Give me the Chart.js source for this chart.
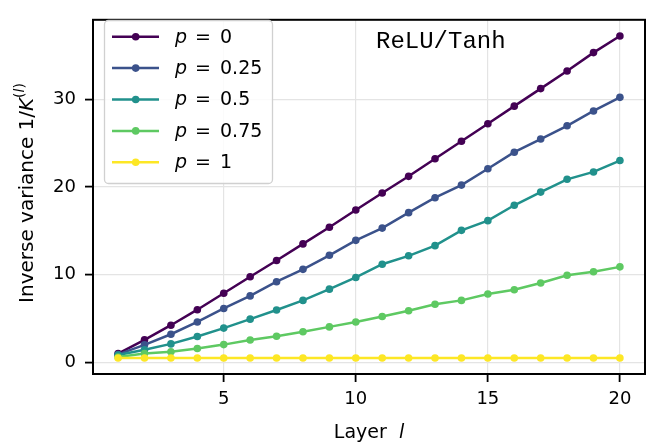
<!DOCTYPE html>
<html>
<head>
<meta charset="utf-8">
<script src="https://cdn.jsdelivr.net/npm/chart.js@4"></script>
<style>
body{margin:0;background:#fff;}
canvas{display:block;}
</style>
</head>
<body>
<canvas id="chart" width="649" height="443"></canvas>
<script>
// layer index and inverse variance per dropout value p
const layers=[1,2,3,4,5,6,7,8,9,10,11,12,13,14,15,16,17,18,19,20];
const pLabels=["0","0.25","0.5","0.75","1"];
const invVarP0=[1.0,2.57,4.23,6.0,7.87,9.75,11.6,13.5,15.4,17.36,19.3,21.2,23.2,25.2,27.2,29.2,31.2,33.2,35.3,37.2];
const invVarP025=[0.9,1.99,3.2,4.6,6.14,7.57,9.19,10.6,12.2,13.9,15.3,17.06,18.76,20.2,22.07,23.95,25.45,26.96,28.65,30.2];
const invVarP05=[0.84,1.43,2.1,2.94,3.9,4.92,5.96,7.06,8.34,9.67,11.18,12.14,13.3,15.04,16.15,17.9,19.4,20.86,21.7,23.0];
const invVarP075=[0.6,1.0,1.21,1.58,2.02,2.54,2.98,3.49,4.04,4.59,5.22,5.88,6.62,7.06,7.79,8.28,9.05,9.93,10.33,10.88];
const invVarP1=[0.5,0.5,0.5,0.5,0.5,0.5,0.5,0.5,0.5,0.5,0.5,0.5,0.5,0.5,0.5,0.5,0.5,0.5,0.5,0.5];
const xTicks=[5,10,15,20];
const yTicks=[0,10,20,30];
const colors=["#440154","#3b528b","#21918c","#5ec962","#fde725"];

const series=[invVarP0,invVarP025,invVarP05,invVarP075,invVarP1];

const sans="'DejaVu Sans'";

let datasets=series.map((vals,i)=>({
label:"p = "+pLabels[i],
data:layers.map((l,j)=>({x:l,y:vals[j]})),
borderColor:colors[i],
backgroundColor:colors[i],
pointBackgroundColor:colors[i],
pointBorderColor:colors[i],
borderWidth:2.5,
pointRadius:3.8,
pointBorderWidth:0,
tension:0,
order:series.length-i
}));

// draws a run of text pieces with mixed fonts, centred on 0
function drawPieces(ctx,pieces){
let total=0;
pieces.forEach(p=>{ctx.font=p.font;p.w=ctx.measureText(p.text).width;total+=p.w;});
let x=-total/2;
pieces.forEach(p=>{
ctx.font=p.font;
ctx.fillText(p.text,x,p.dy||0);
x+=p.w;
});
}

const extras={
id:"extras",
afterDraw(chart){
const ctx=chart.ctx;
const a=chart.chartArea;
ctx.save();

// frame
ctx.strokeStyle="#000";
ctx.lineWidth=2;
ctx.strokeRect(a.left,a.top,a.right-a.left,a.bottom-a.top);

// annotation
ctx.fillStyle="#000";
ctx.font="24px 'Liberation Mono'";
ctx.textAlign="left";
ctx.textBaseline="alphabetic";
ctx.fillText("ReLU/Tanh",376,48);

// legend
let lx=104,ly=20,lw=168,lh=163;
ctx.fillStyle="rgba(255,255,255,0.85)";
ctx.strokeStyle="#d0d0d0";
ctx.lineWidth=1.3;
ctx.beginPath();
ctx.roundRect(lx+0.5,ly+0.5,lw,lh,4);
ctx.fill();
ctx.stroke();
ctx.textBaseline="middle";
pLabels.forEach((lab,i)=>{
let y=36.7+i*31.4;
ctx.strokeStyle=colors[i];
ctx.lineWidth=2.5;
ctx.beginPath();
ctx.moveTo(112,y);ctx.lineTo(159,y);ctx.stroke();
ctx.fillStyle=colors[i];
ctx.beginPath();ctx.arc(135.7,y,3.8,0,Math.PI*2);ctx.fill();
ctx.fillStyle="#000";
ctx.font="italic 19px "+sans;
ctx.fillText("p",175,y+1);
ctx.font="19px "+sans;
ctx.fillText("=",195,y+1);
ctx.fillText(lab,220,y+1);
});

// axis titles
ctx.fillStyle="#000";
ctx.textAlign="left";
ctx.textBaseline="middle";
ctx.save();
ctx.translate((a.left+a.right)/2,433);
drawPieces(ctx,[
{text:"Layer  ",font:"19px "+sans},
{text:"l",font:"italic 19px "+sans}
]);
ctx.restore();

ctx.save();
ctx.translate(28,193);
ctx.rotate(-Math.PI/2);
drawPieces(ctx,[
{text:"Inverse variance 1/",font:"20px "+sans},
{text:"K",font:"italic 20px "+sans},
{text:"(",font:"14px "+sans,dy:-8},
{text:"l",font:"italic 14px "+sans,dy:-8},
{text:")",font:"14px "+sans,dy:-8}
]);
ctx.restore();

ctx.restore();
}
};

new Chart(document.getElementById("chart"),{
type:"line",
data:{datasets:datasets},
options:{
responsive:false,
animation:false,
devicePixelRatio:1,
layout:{padding:{top:9,right:4,left:0,bottom:0}},
plugins:{legend:{display:false},tooltip:{enabled:false}},
scales:{
x:{
type:"linear",
min:0.05,
max:20.95,
afterBuildTicks(s){s.ticks=xTicks.map(v=>({value:v}));},
afterFit(s){s.height=69;},
grid:{color:"#e4e4e4",lineWidth:1.2,tickColor:"#000",tickLength:8,tickWidth:1.8},
border:{display:false},
ticks:{color:"#000",font:{family:"DejaVu Sans",size:18},padding:7,maxRotation:0}
},
y:{
min:-1.33,
max:39.04,
afterBuildTicks(s){s.ticks=yTicks.map(v=>({value:v}));},
afterFit(s){s.width=93;},
grid:{color:"#e4e4e4",lineWidth:1.2,tickColor:"#000",tickLength:8,tickWidth:1.8},
border:{display:false},
ticks:{color:"#000",font:{family:"DejaVu Sans",size:18},padding:9}
}
}
},
plugins:[extras]
});
</script>
</body>
</html>
